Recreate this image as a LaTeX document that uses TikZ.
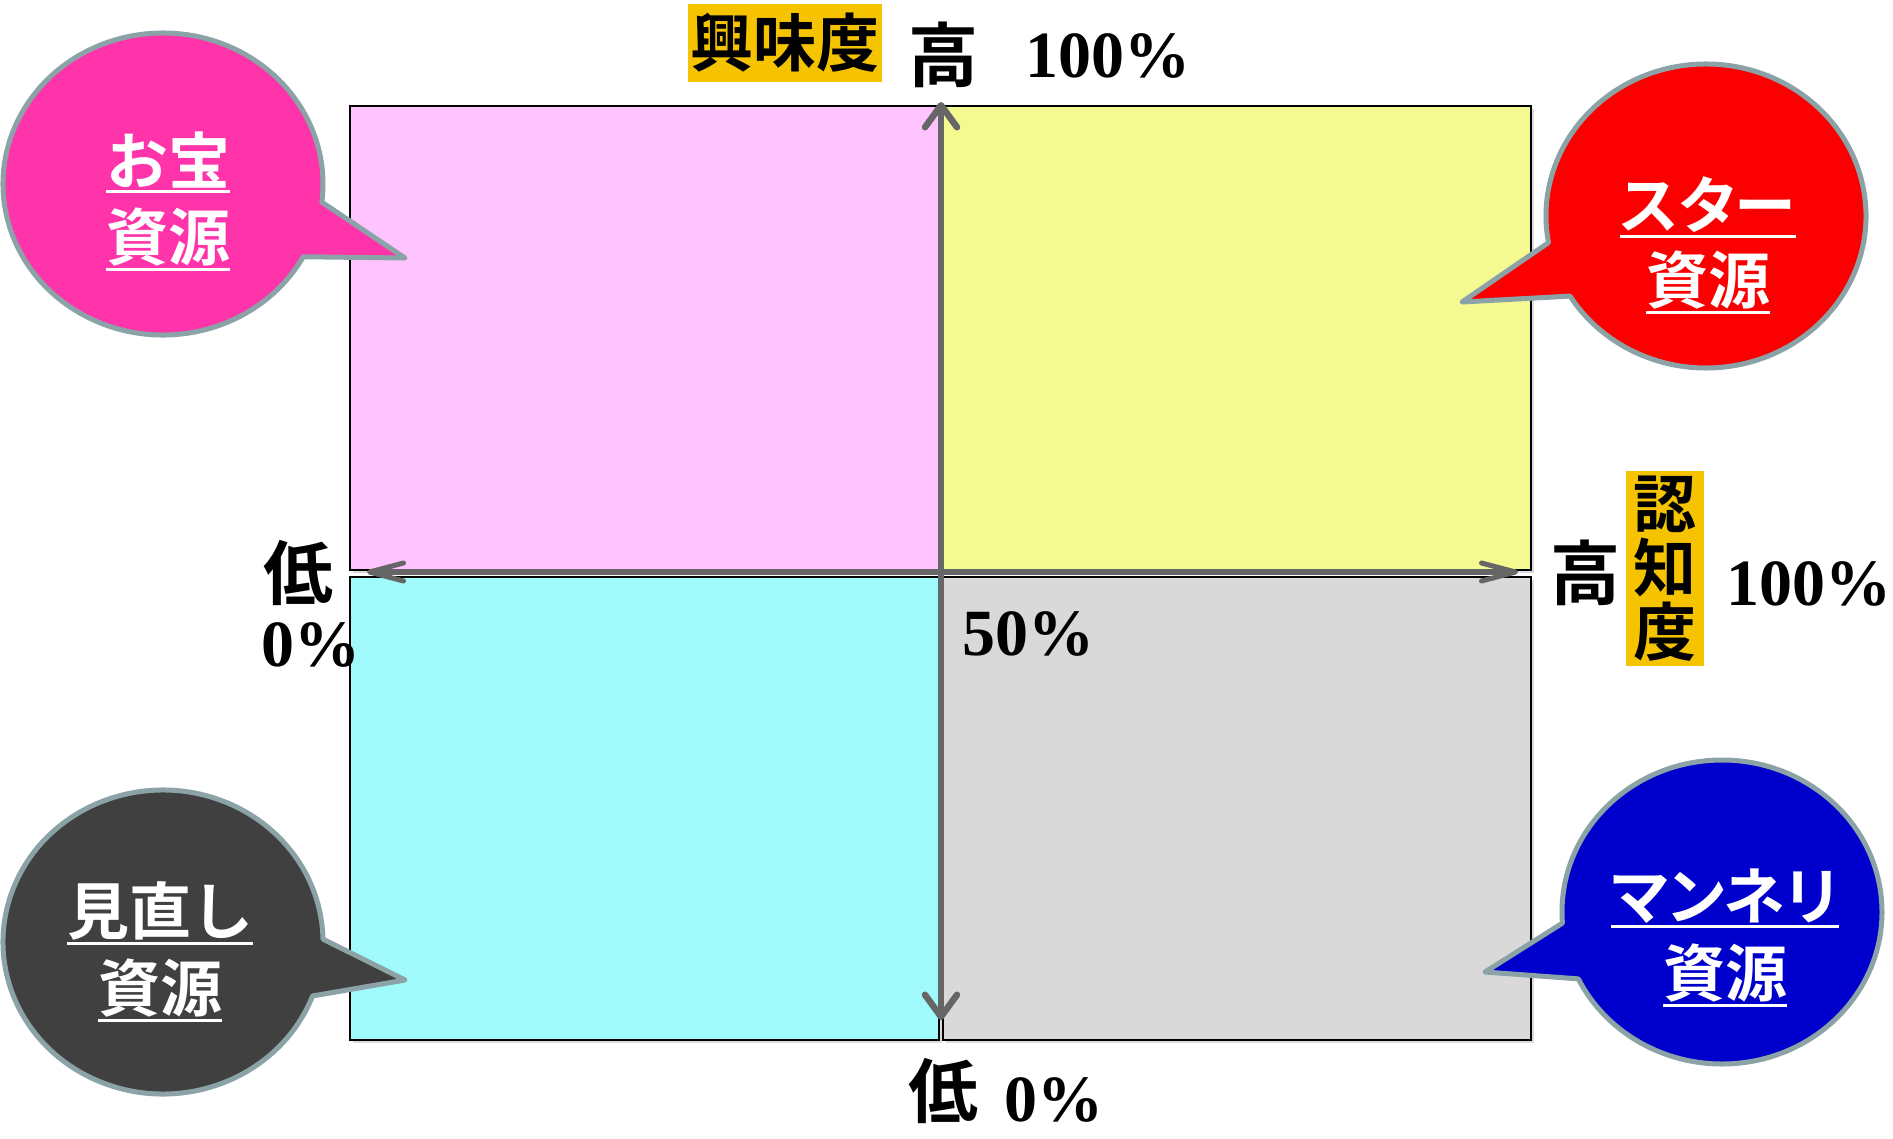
\documentclass[tikz,border=0pt]{standalone}
\usepackage{fontspec}
\setmainfont{Liberation Serif}
\newfontfamily\jp{Noto Sans CJK JP}[BoldFont=* Bold]
\usetikzlibrary{arrows.meta,shadows}
\definecolor{pinkq}{HTML}{FFC4FF}
\definecolor{yellowq}{HTML}{F4FA90}
\definecolor{cyanq}{HTML}{A0FAFC}
\definecolor{grayq}{HTML}{D9D9D9}
\definecolor{goldq}{HTML}{F5C300}
\definecolor{bubbleedge}{HTML}{8BA3A6}
\definecolor{bpink}{HTML}{FF33AA}
\definecolor{bred}{HTML}{FA0000}
\definecolor{bdark}{HTML}{404040}
\definecolor{bblue}{HTML}{0000CC}
\definecolor{axisgray}{HTML}{666666}
\tikzset{
  quad/.style={draw=black, line width=1.5pt, inner sep=0pt,
    drop shadow={shadow xshift=3pt, shadow yshift=-3pt, fill=black!40, opacity=0.35}},
  axisline/.style={draw=axisgray, line width=5.5pt},
  vtip/.tip={Straight Barb[length=22pt,width=32pt,line width=6.5pt,round]},
  htip/.tip={Straight Barb[length=34pt,width=18pt,line width=5pt,round]},
  bubble/.style={draw=bubbleedge, line width=5pt, line join=round},
  bubtext/.style={text=white, inner sep=0pt, font=\jp\bfseries\fontsize{62}{62}\selectfont},
  uline/.style={draw=white, line width=3pt},
  axlabel/.style={text=black, inner sep=0pt, font=\jp\bfseries\fontsize{70}{70}\selectfont},
  pct/.style={text=black, inner sep=0pt, font=\bfseries\fontsize{66}{66}\selectfont},
  goldbox/.style={fill=goldq, text=black, inner sep=0pt, font=\jp\bfseries\fontsize{63}{64}\selectfont},
}
\begin{document}
\begin{tikzpicture}[x=1pt,y=-1pt]
\useasboundingbox (0,0) rectangle (1893,1138);
\fill[white] (0,0) rectangle (1893,1138);

% quadrants
\node[quad, fill=pinkq, minimum width=589pt, minimum height=464pt] (q1) at (644.5,338) {};
\node[quad, fill=yellowq, minimum width=588pt, minimum height=464pt] (q2) at (1237,338) {};
\node[quad, fill=cyanq, minimum width=589pt, minimum height=463pt] (q3) at (644.5,808.5) {};
\node[quad, fill=grayq, minimum width=588pt, minimum height=463pt] (q4) at (1237,808.5) {};

% axes
\coordinate (vtop) at (941,102);
\coordinate (vbot) at (941,1020);
\coordinate (hleft) at (367,572);
\coordinate (hright) at (1518,572);
\draw[axisline, {vtip}-{vtip}] (vtop) -- (vbot);
\draw[axisline, {htip}-{htip}] (hleft) -- (hright);

% bubbles
\path[bubble, fill=bpink] (163,184) ++(28.8:160 and 151)
  arc[start angle=28.8, end angle=366.9, x radius=160, y radius=151] -- (405,258) -- cycle;
\path[bubble, fill=bred] (1706,216) ++(169.9:160 and 152)
  arc[start angle=169.9, end angle=508.2, x radius=160, y radius=152] -- (1462,302) -- cycle;
\path[bubble, fill=bdark] (163,942) ++(20.8:160 and 152)
  arc[start angle=20.8, end angle=358.9, x radius=160, y radius=152] -- (405,980) -- cycle;
\path[bubble, fill=bblue] (1722,912) ++(175.8:160 and 152)
  arc[start angle=175.8, end angle=513.9, x radius=160, y radius=152] -- (1485,972) -- cycle;

% bubble texts
\node[bubtext] (b1a) at (168,160) {お宝};
\node[bubtext] (b1b) at (168,237) {資源};
\node[bubtext] (b2a) at (1708,205) {\addfontfeatures{RawFeature=+palt}スター};
\node[bubtext] (b2b) at (1708,280) {資源};
\node[bubtext] (b3a) at (160,911) {見直し};
\node[bubtext] (b3b) at (160,988) {資源};
\node[bubtext] (b4a) at (1725,896) {\addfontfeatures{RawFeature=+palt}マンネリ};
\node[bubtext] (b4b) at (1725,973) {資源};
\foreach \n in {b1a,b1b,b2a,b2b,b3a,b3b,b4a,b4b}
  \draw[uline] ([yshift=-3pt]\n.south west) -- ([yshift=-3pt]\n.south east);

% axis labels
\node[goldbox, minimum width=194pt, minimum height=78pt] (kyomi) at (785,43) {興味度};
\node[axlabel] (takaTop) at (943,55) {高};
\node[pct] (p100top) at (1108,56) {100\%};
\node[axlabel] (hikuiLeft) at (298,573) {低};
\node[pct] (p0left) at (311,645) {0\%};
\node[pct] (p50) at (1028,634) {50\%};
\node[axlabel] (takaRight) at (1585,573) {高};
\node[goldbox, minimum width=78pt, minimum height=195pt, align=center] (ninchi) at (1665,568.5) {認\\知\\度};
\node[pct] (p100right) at (1809,584) {100\%};
\node[axlabel] (hikuiBot) at (943,1091) {低};
\node[pct] (p0bot) at (1054,1100) {0\%};
\end{tikzpicture}
\end{document}
